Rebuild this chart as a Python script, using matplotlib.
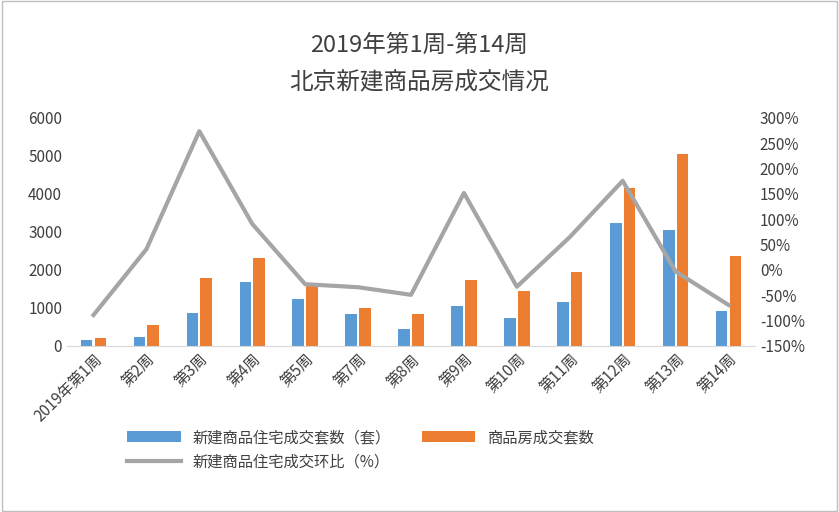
import matplotlib
matplotlib.use("Agg")
import matplotlib.pyplot as plt
from matplotlib import font_manager
import numpy as np
import glob
from matplotlib.patches import Rectangle

fam = 'Noto Sans CJK SC'
for p in glob.glob('/usr/share/fonts/**/*CJK*', recursive=True) + glob.glob('/usr/share/fonts/**/*cjk*', recursive=True):
    try:
        font_manager.fontManager.addfont(p)
    except Exception:
        pass
names = {f.name for f in font_manager.fontManager.ttflist}
for cand in ['Noto Sans CJK SC', 'Noto Sans CJK JP', 'Noto Sans SC', 'Noto Sans CJK']:
    if cand in names:
        fam = cand
        break
plt.rcParams['font.family'] = [fam, 'DejaVu Sans']

categories = ["2019年第1周","第2周","第3周","第4周","第5周","第7周","第8周","第9周","第10周","第11周","第12周","第13周","第14周"]
new_homes = [170, 250, 880, 1680, 1230, 830, 440, 1060, 730, 1170, 3250, 3060, 930]
all_homes = [220, 540, 1790, 2310, 1570, 1010, 830, 1730, 1460, 1940, 4160, 5060, 2380]
wow = [-89, 41, 274, 91, -28, -34, -49, 152, -33, 65, 176, -3, -69]

fig = plt.figure(figsize=(8.39, 5.12), dpi=100)
ax = fig.add_axes([67/839, 1-346/512, (755-67)/839, 228/512])
x = np.arange(len(categories))
w = 0.22
b1 = ax.bar(x - w/2 - 0.02, new_homes, w, color='#5B9BD5', label='新建商品住宅成交套数（套）')
b2 = ax.bar(x + w/2 + 0.02, all_homes, w, color='#ED7D31', label='商品房成交套数')
ax.set_ylim(0, 6000)
ax.set_yticks(range(0, 6001, 1000))
ax.set_xlim(-0.5, len(categories) - 0.5)
ax.set_xticks(x)
ax.set_xticklabels(categories, rotation=45, ha='right', rotation_mode='anchor', fontsize=11, color='#404040')
ax2 = ax.twinx()
l1, = ax2.plot(x, wow, color='#A5A5A5', lw=3, label='新建商品住宅成交环比（%）')
ax2.set_ylim(-150, 300)
ax2.set_yticks(range(-150, 301, 50))
ax2.set_yticklabels([f"{v}%" for v in range(-150, 301, 50)])
for a in (ax, ax2):
    for s in a.spines.values():
        s.set_visible(False)
    a.tick_params(length=0, labelsize=11, colors='#404040')
ax.spines['bottom'].set_visible(True)
ax.spines['bottom'].set_color('#D9D9D9')
fig.text(0.5, 1-45/512, "2019年第1周-第14周", ha='center', va='center', fontsize=17, color='#404040')
fig.text(0.5, 1-83/512, "北京新建商品房成交情况", ha='center', va='center', fontsize=17, color='#404040')
fig.legend([b1, l1, b2], [b1.get_label(), l1.get_label(), b2.get_label()], ncol=2, loc='center',
           bbox_to_anchor=(0.43, 1-450/512), frameon=False, fontsize=11, labelcolor='#404040',
           handlelength=3.5, columnspacing=2)
fig.patches.append(Rectangle((0.002, 0.002), 0.996, 0.996, transform=fig.transFigure, fill=False, edgecolor='#BFBFBF', lw=1))
fig.savefig("out.png", dpi=100)
